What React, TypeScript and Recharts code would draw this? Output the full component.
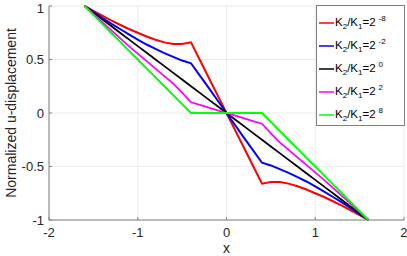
import React from 'react';
import {
  LineChart,
  Line,
  XAxis,
  YAxis,
  CartesianGrid,
  Legend,
  Label,
} from 'recharts';

// x positions along the bar
const xs = [
  -1.6, -1.5, -1.4, -1.3, -1.2, -1.1, -1.0, -0.9, -0.8, -0.7, -0.6, -0.5, -0.4, -0.3, -0.2, -0.1,
  0, 0.1, 0.2, 0.3, 0.4, 0.5, 0.6, 0.7, 0.8, 0.9, 1.0, 1.1, 1.2, 1.3, 1.4, 1.5, 1.6,
];

const redVals = [
  1, 0.955, 0.91, 0.865, 0.825, 0.785, 0.75, 0.715, 0.685, 0.66, 0.645, 0.645, 0.66, 0.495, 0.33, 0.165,
  0, -0.165, -0.33, -0.495, -0.66, -0.645, -0.645, -0.66, -0.685, -0.715, -0.75, -0.785, -0.825, -0.865, -0.91, -0.955, -1,
];
const blueVals = [
  1, 0.945, 0.89, 0.835, 0.785, 0.735, 0.685, 0.64, 0.6, 0.56, 0.525, 0.49, 0.465, 0.35, 0.235, 0.117,
  0, -0.117, -0.235, -0.35, -0.465, -0.49, -0.525, -0.56, -0.6, -0.64, -0.685, -0.735, -0.785, -0.835, -0.89, -0.945, -1,
];
const blackVals = [
  1, 0.938, 0.875, 0.813, 0.75, 0.688, 0.625, 0.563, 0.5, 0.438, 0.375, 0.313, 0.25, 0.188, 0.125, 0.063,
  0, -0.063, -0.125, -0.188, -0.25, -0.313, -0.375, -0.438, -0.5, -0.563, -0.625, -0.688, -0.75, -0.813, -0.875, -0.938, -1,
];
const magentaVals = [
  1, 0.925, 0.85, 0.775, 0.7, 0.625, 0.555, 0.485, 0.415, 0.345, 0.275, 0.19, 0.1, 0.075, 0.05, 0.025,
  0, -0.025, -0.05, -0.075, -0.1, -0.19, -0.275, -0.345, -0.415, -0.485, -0.555, -0.625, -0.7, -0.775, -0.85, -0.925, -1,
];
const greenVals = [
  1, 0.917, 0.833, 0.75, 0.667, 0.583, 0.5, 0.417, 0.333, 0.25, 0.167, 0.083, 0, 0, 0, 0,
  0, 0, 0, 0, 0, -0.083, -0.167, -0.25, -0.333, -0.417, -0.5, -0.583, -0.667, -0.75, -0.833, -0.917, -1,
];

const xTicks = [-2, -1, 0, 1, 2];
const yTicks = [-1, -0.5, 0, 0.5, 1];

const series = [
  { key: 'r', exp: '-8', color: '#ff0000', vals: redVals, width: 2 },
  { key: 'b', exp: '-2', color: '#0000ff', vals: blueVals, width: 2 },
  { key: 'k', exp: '0', color: '#000000', vals: blackVals, width: 1.8 },
  { key: 'm', exp: '2', color: '#ff00ff', vals: magentaVals, width: 1.8 },
  { key: 'g', exp: '8', color: '#00ff00', vals: greenVals, width: 2 },
];

const data = xs.map((x, i) => {
  const row: Record<string, number> = { x };
  series.forEach((s) => {
    row[s.key] = s.vals[i];
  });
  return row;
});

const FONT = '"Liberation Sans", Arial, Helvetica, sans-serif';
const TEXT = '#262626';
const AXIS = '#808080';

const renderLegend = () => (
  <div
    style={{
      width: 89,
      height: 121,
      border: `1px solid ${AXIS}`,
      background: '#fff',
      boxSizing: 'border-box',
      paddingTop: 5,
      fontFamily: FONT,
      fontSize: 11.5,
      color: '#000',
    }}
  >
    {series.map((s) => (
      <div key={s.key} style={{ height: 23, display: 'flex', alignItems: 'center' }}>
        <svg width={18} height={6} style={{ display: 'block', flex: 'none' }}>
          <line x1={2} y1={3} x2={17} y2={3} stroke={s.color} strokeWidth={1.5} />
        </svg>
        <span style={{ whiteSpace: 'nowrap' }}>
          K<sub style={{ fontSize: 8 }}>2</sub>/K<sub style={{ fontSize: 8 }}>1</sub>=2
          <sup style={{ fontSize: 8, marginLeft: 3 }}>{s.exp}</sup>
        </span>
      </div>
    ))}
  </div>
);

export default function App() {
  return (
    <div style={{ position: 'absolute', left: 0, top: 0, background: '#fff' }}>
      <LineChart
        width={407}
        height={256}
        data={data}
        margin={{ top: 6, right: 3, bottom: 0, left: 0 }}
      >
        <CartesianGrid stroke="#ebebeb" />
        <XAxis
          dataKey="x"
          type="number"
          domain={[-2, 2]}
          ticks={xTicks}
          height={36}
          stroke={AXIS}
          tickSize={-3}
          tickMargin={11}
          tick={{ fill: TEXT, fontSize: 13, fontFamily: FONT }}
        >
          <Label value="x" position="insideBottom" offset={3} fill={TEXT} fontSize={14} fontFamily={FONT} />
        </XAxis>
        <XAxis
          xAxisId="top"
          orientation="top"
          type="number"
          domain={[-2, 2]}
          ticks={xTicks}
          height={0}
          stroke={AXIS}
          tickSize={-3}
          tick={false}
        />
        <YAxis
          type="number"
          domain={[-1, 1]}
          ticks={yTicks}
          width={49}
          stroke={AXIS}
          tickSize={-3}
          tickMargin={8}
          tick={{ fill: TEXT, fontSize: 13, fontFamily: FONT }}
        >
          <Label
            value="Normalized u-displacement"
            angle={-90}
            position="insideLeft"
            offset={11}
            style={{ textAnchor: 'middle' }}
            fill={TEXT}
            fontSize={14}
            fontFamily={FONT}
          />
        </YAxis>
        <YAxis
          yAxisId="right"
          orientation="right"
          type="number"
          domain={[-1, 1]}
          ticks={yTicks}
          width={0}
          stroke={AXIS}
          tickSize={-3}
          tick={false}
        />
        <Legend
          layout="vertical"
          align="center"
          verticalAlign="middle"
          content={renderLegend}
          wrapperStyle={{ left: 316, top: 5, width: 89 }}
        />
        {series.map((s) => (
          <Line
            key={s.key}
            dataKey={s.key}
            stroke={s.color}
            strokeWidth={s.width}
            dot={false}
            type="linear"
            isAnimationActive={false}
          />
        ))}
      </LineChart>
    </div>
  );
}
